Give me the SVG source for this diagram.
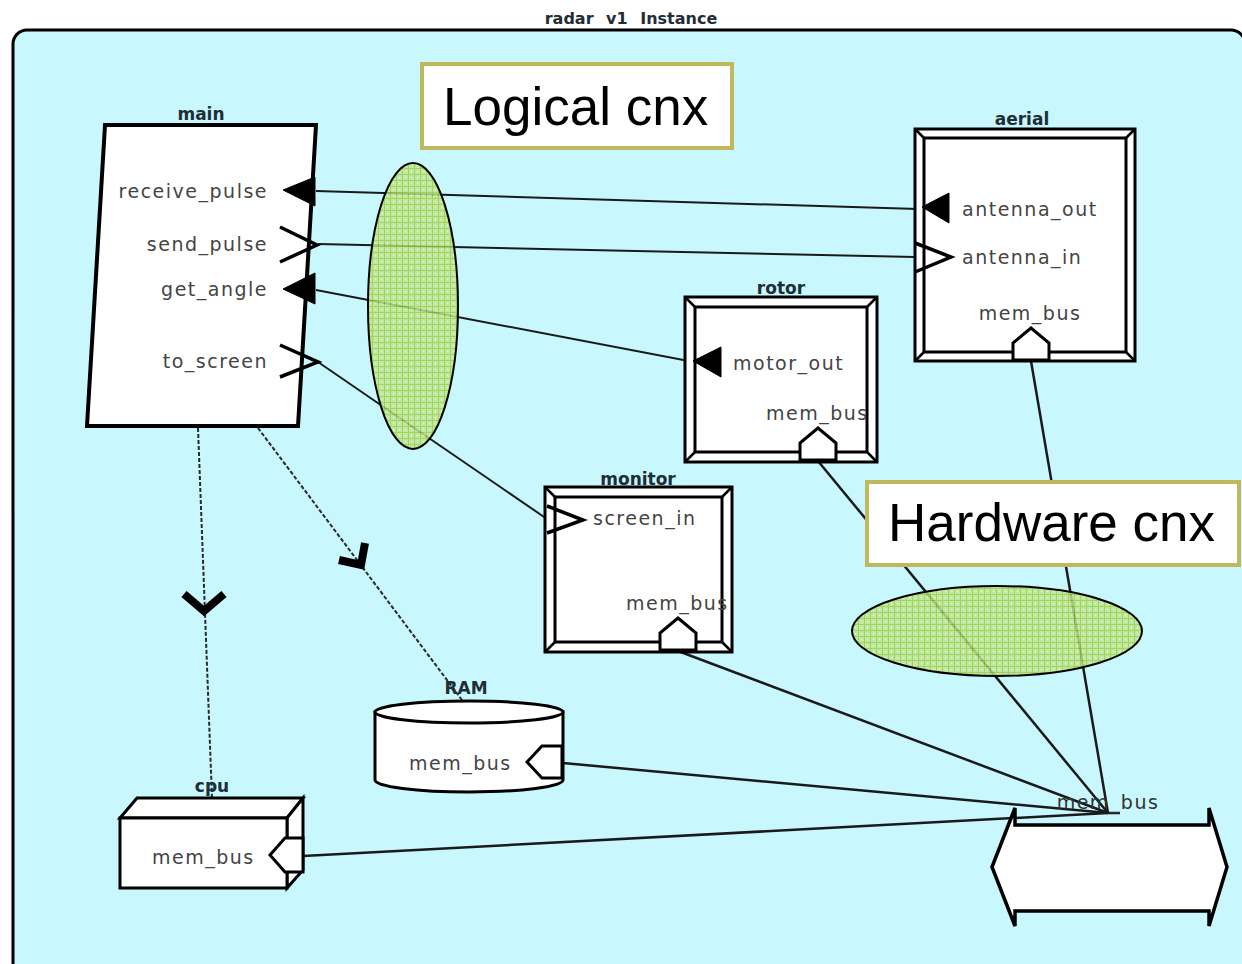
<svg xmlns="http://www.w3.org/2000/svg" width="1242" height="964" viewBox="0 0 1242 964">
  <defs>
    <style>
      .port { font-family: "DejaVu Sans", Verdana, sans-serif; font-size: 19px; fill: #444444; letter-spacing: 1.5px; }
      .name { font-family: "DejaVu Sans", Verdana, sans-serif; font-size: 17px; font-weight: bold; fill: #1e2d36; text-anchor: middle; }
      .box { fill: #ffffff; stroke: #000000; stroke-width: 3; }
      .bevel { stroke: #000000; stroke-width: 2.5; fill: none; }
      .pin { fill: #ffffff; stroke: #000000; stroke-width: 3; stroke-linejoin: miter; }
      .pinfill { fill: #000000; stroke: #000000; stroke-width: 1; }
      .chev { fill: none; stroke: #000000; stroke-width: 3.5; }
      .logic { stroke: #1a1a1a; stroke-width: 2; fill: none; }
      .hw { stroke: #1a1a1a; stroke-width: 2.5; fill: none; }
      .bind { stroke: #2a2a2a; stroke-width: 2; stroke-dasharray: 4 2; fill: none; }
      .vhead { fill: none; stroke: #000000; stroke-width: 8; stroke-linejoin: miter; stroke-linecap: butt; }
      .call { fill: #ffffff; stroke: #BFB85C; stroke-width: 4; }
      .callt { font-family: "Liberation Sans", Arial, sans-serif; font-size: 53px; fill: #000000; }
      .zone { fill: url(#grid); opacity: 0.82; }
      .zoneline { fill: none; stroke: #000000; stroke-width: 2; }
    </style>
    <pattern id="grid" width="6" height="6" patternUnits="userSpaceOnUse">
      <rect width="6" height="6" fill="#BDE48F"/>
      <path d="M0 0.5H6M0.5 0V6" stroke="#9CCD36" stroke-width="1"/>
      <rect x="3" y="3" width="1.2" height="1.2" fill="#E6F6D3"/>
    </pattern>
  </defs>

  <rect x="0" y="0" width="1242" height="964" fill="#ffffff"/>

  <!-- instance frame -->
  <g id="frame">
    <rect x="13" y="30" width="1232" height="960" rx="14" ry="14" fill="#C8F8FD" stroke="#000000" stroke-width="3"/>
    <text x="631" y="24" font-family="DejaVu Sans, Verdana, sans-serif" font-size="16" font-weight="bold" fill="#1e2d36" text-anchor="middle" word-spacing="7">radar v1 Instance</text>
  </g>

  <!-- connectors -->
  <g id="connectors">
    <!-- logical connections -->
    <line class="logic" x1="316" y1="191" x2="918" y2="209"/>
    <line class="logic" x1="318" y1="244" x2="915" y2="257"/>
    <line class="logic" x1="316" y1="290" x2="694" y2="362"/>
    <line class="logic" x1="318" y1="362" x2="547" y2="519"/>
    <!-- hardware connections to the bus -->
    <line class="hw" x1="1031" y1="361" x2="1108" y2="813"/>
    <line class="hw" x1="818" y1="461" x2="1108" y2="813"/>
    <line class="hw" x1="678" y1="651" x2="1108" y2="813"/>
    <line class="hw" x1="563" y1="763" x2="1108" y2="813"/>
    <line class="hw" x1="303" y1="856" x2="1108" y2="813"/>
    <line class="hw" x1="1108" y1="813" x2="1120" y2="813"/>
    <!-- bindings -->
    <line class="bind" x1="198" y1="428" x2="212" y2="798"/>
    <polyline class="vhead" points="184,594 204,611 224,594"/>
    <line class="bind" x1="258" y1="428" x2="462" y2="700"/>
    <polyline class="vhead" points="339,560 361,565 365,543"/>
  </g>

  <!-- main process -->
  <g id="main">
    <text class="name" x="201" y="120">main</text>
    <polygon points="105,125 316,125 298,426 87,426" fill="#ffffff" stroke="#000000" stroke-width="4"/>
    <polygon class="pinfill" points="283,190 315,177 315,206"/>
    <polyline class="chev" points="280,227 317,245 280,262"/>
    <polygon class="pinfill" points="283,289 315,273 315,304"/>
    <polyline class="chev" points="280,345 318,362 280,377"/>
    <polyline fill="none" stroke="#000" stroke-width="2" points="306,357 318,362 306,367"/>
    <text class="port" x="268" y="198" text-anchor="end">receive_pulse</text>
    <text class="port" x="268" y="251" text-anchor="end">send_pulse</text>
    <text class="port" x="268" y="296" text-anchor="end">get_angle</text>
    <text class="port" x="268" y="368" text-anchor="end">to_screen</text>
  </g>

  <!-- aerial device -->
  <g id="aerial">
    <text class="name" x="1022" y="125">aerial</text>
    <rect class="box" x="915" y="129" width="220" height="232"/>
    <rect class="box" x="924" y="138" width="202" height="214"/>
    <path class="bevel" d="M915 129L924 138M1135 129L1126 138M915 361L924 352M1135 361L1126 352"/>
    <polygon class="pinfill" points="922,207 949,193 949,223"/>
    <polyline class="chev" points="915,243 951,257 915,272"/>
    <polygon class="pin" points="1013,360 1013,343 1031,328 1049,343 1049,360"/>
    <text class="port" x="962" y="216">antenna_out</text>
    <text class="port" x="962" y="264">antenna_in</text>
    <text class="port" x="1030" y="320" text-anchor="middle">mem_bus</text>
  </g>

  <!-- rotor device -->
  <g id="rotor">
    <text class="name" x="781" y="294">rotor</text>
    <rect class="box" x="685" y="297" width="192" height="165"/>
    <rect class="box" x="695" y="307" width="172" height="145"/>
    <path class="bevel" d="M685 297L695 307M877 297L867 307M685 462L695 452M877 462L867 452"/>
    <polygon class="pinfill" points="693,361 721,347 721,377"/>
    <polygon class="pin" points="800,460 800,443 818,428 836,443 836,460"/>
    <text class="port" x="733" y="370">motor_out</text>
    <text class="port" x="766" y="420">mem_bus</text>
  </g>

  <!-- monitor device -->
  <g id="monitor">
    <text class="name" x="638" y="485">monitor</text>
    <rect class="box" x="545" y="487" width="187" height="165"/>
    <rect class="box" x="555" y="497" width="167" height="145"/>
    <path class="bevel" d="M545 487L555 497M732 487L722 497M545 652L555 642M732 652L722 642"/>
    <polyline class="chev" points="547,506 583,520 547,533"/>
    <polygon class="pin" points="660,650 660,633 678,618 696,633 696,650"/>
    <text class="port" x="593" y="525">screen_in</text>
    <text class="port" x="626" y="610">mem_bus</text>
  </g>

  <!-- RAM memory -->
  <g id="RAM">
    <text class="name" x="466" y="694">RAM</text>
    <path class="box" d="M375 712 L375 780 A94 12 0 0 0 563 780 L563 712 Z"/>
    <ellipse class="box" cx="469" cy="712" rx="94" ry="11"/>
    <polygon class="pin" points="562,746 542,746 527,762 542,778 562,778"/>
    <text class="port" x="409" y="770">mem_bus</text>
  </g>

  <!-- cpu processor -->
  <g id="cpu">
    <text class="name" x="212" y="792">cpu</text>
    <polygon class="box" points="120,818 137,798 303,798 287,818"/>
    <polygon class="box" points="287,818 303,798 303,870 287,888"/>
    <rect class="box" x="120" y="818" width="167" height="70"/>
    <polygon class="pin" points="303,838 285,838 270,855 285,872 303,872"/>
    <text class="port" x="152" y="864">mem_bus</text>
  </g>

  <!-- mem_bus bus -->
  <g id="mem_bus">
    <polygon points="992,867 1015,808 1015,825 1209,825 1209,808 1227,867 1209,926 1209,911 1015,911 1015,926" fill="#ffffff" stroke="#000000" stroke-width="3.5" stroke-linejoin="miter"/>
    <text class="port" x="1108" y="809" text-anchor="middle" style="fill:#333333">mem_bus</text>
  </g>

  <!-- highlight zones -->
  <g id="logical_zone">
    <ellipse class="zone" cx="413" cy="306" rx="45" ry="143"/>
    <ellipse class="zoneline" cx="413" cy="306" rx="45" ry="143"/>
  </g>
  <g id="hardware_zone">
    <ellipse class="zone" cx="997" cy="631" rx="145" ry="45"/>
    <ellipse class="zoneline" cx="997" cy="631" rx="145" ry="45"/>
  </g>

  <!-- callouts -->
  <g id="logical_label">
    <rect class="call" x="422" y="64" width="310" height="84"/>
    <text class="callt" x="443" y="125">Logical cnx</text>
  </g>
  <g id="hardware_label">
    <rect class="call" x="867" y="482" width="372" height="83"/>
    <text class="callt" x="888" y="541">Hardware cnx</text>
  </g>
</svg>
